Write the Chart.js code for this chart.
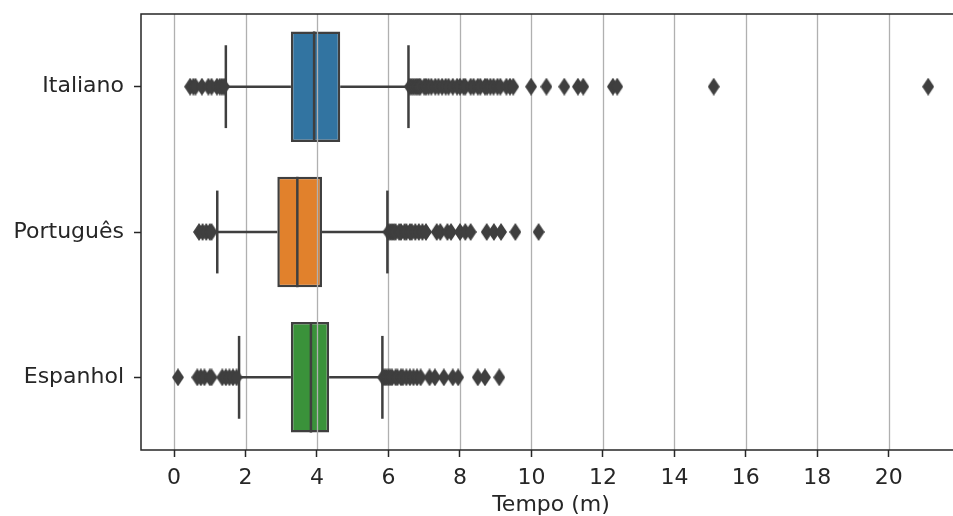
<!DOCTYPE html>
<html>
<head>
<meta charset="utf-8">
<script src="https://cdn.jsdelivr.net/npm/chart.js@4"></script>
<style>
  html, body { margin: 0; padding: 0; background: #fff; overflow: hidden; }
  #box-chart { display: block; }
</style>
</head>
<body>
<canvas id="box-chart" width="953" height="516"></canvas>
<script>
// languages (top to bottom) and box colours
const categories = ["Italiano", "Português", "Espanhol"];
const boxColors = ["#3274a1", "#e1812c", "#3a923a"];

// box statistics, minutes
const whiskerLow  = [1.45, 1.21, 1.82];
const q1          = [3.27, 2.89, 3.27];
const median      = [3.92, 3.45, 3.83];
const q3          = [4.65, 4.14, 4.34];
const whiskerHigh = [6.56, 5.97, 5.83];

// fliers
const fliersItaliano = [
  0.45, 0.54, 0.6, 0.78, 0.96, 1.05, 1.2, 1.28, 1.34, 1.4,
  6.6, 6.65, 6.7, 6.75, 6.8, 6.85, 6.89, 7.0, 7.05, 7.12, 7.2, 7.31, 7.4, 7.5,
  7.6, 7.68, 7.8, 7.92, 8.0, 8.1, 8.15, 8.3, 8.38, 8.5, 8.57, 8.7, 8.76, 8.85,
  8.94, 9.05, 9.13, 9.3, 9.4, 9.49,
  9.99, 10.42, 10.92, 11.3, 11.45, 12.28, 12.4, 15.1, 21.1
];
const fliersPortugues = [
  0.7, 0.8, 0.9, 1.0, 1.05,
  6.0, 6.05, 6.1, 6.15, 6.2, 6.3, 6.35, 6.45, 6.5, 6.6, 6.65, 6.75, 6.85,
  6.95, 7.05, 7.35, 7.45, 7.65, 7.75, 8.0, 8.15, 8.3, 8.75, 8.95, 9.15,
  9.55, 10.2
];
const fliersEspanhol = [
  0.11, 0.65, 0.75, 0.85, 1.0, 1.05, 1.35, 1.45, 1.55, 1.65, 1.75,
  5.85, 5.9, 5.95, 6.0, 6.05, 6.1, 6.2, 6.25, 6.35, 6.4, 6.5, 6.6, 6.7,
  6.8, 6.9, 7.15, 7.3, 7.55, 7.8, 7.95, 8.5, 8.7, 9.1
];
const fliers = [fliersItaliano, fliersPortugues, fliersEspanhol];

const xTicks = [0, 2, 4, 6, 8, 10, 12, 14, 16, 18, 20];
const xTitle = "Tempo (m)";

const lineColor = "#3f3f3f";

// thin diamond marker like matplotlib "d"
function diamond(w, h) {
  const c = document.createElement("canvas");
  c.width = w; c.height = h;
  const g = c.getContext("2d");
  g.fillStyle = lineColor;
  g.beginPath();
  g.moveTo(w / 2, 0);
  g.lineTo(w, h / 2);
  g.lineTo(w / 2, h);
  g.lineTo(0, h / 2);
  g.closePath();
  g.fill();
  return c;
}
const marker = diamond(12, 18);

const BOX_HALF = 0.38;
const CAP_HALF = 0.285;
const AXES_RIGHT = 961; // the original axes run a little past the cut edge

// grid over the boxes, then whiskers, caps and medians (matplotlib order)
const boxExtras = {
  id: "boxExtras",
  afterDatasetDraw(chart, args) {
    if (args.index !== 0) return;
    const { ctx, chartArea, scales: { x, y } } = chart;
    ctx.save();
    ctx.strokeStyle = "#b0b0b0";
    ctx.lineWidth = 1.3;
    xTicks.forEach(v => {
      const px = Math.round(x.getPixelForValue(v)) + 0.5;
      ctx.beginPath();
      ctx.moveTo(px, chartArea.top);
      ctx.lineTo(px, chartArea.bottom);
      ctx.stroke();
    });
    ctx.strokeStyle = lineColor;
    ctx.lineWidth = 2.5;
    categories.forEach((c, i) => {
      const cy = y.getPixelForValue(i);
      const seg = (a, b, c2, d) => {
        ctx.beginPath(); ctx.moveTo(a, b); ctx.lineTo(c2, d); ctx.stroke();
      };
      seg(x.getPixelForValue(whiskerLow[i]), cy, x.getPixelForValue(q1[i]), cy);
      seg(x.getPixelForValue(q3[i]), cy, x.getPixelForValue(whiskerHigh[i]), cy);
      [whiskerLow[i], whiskerHigh[i]].forEach(v => {
        const px = x.getPixelForValue(v);
        seg(px, y.getPixelForValue(i - CAP_HALF), px, y.getPixelForValue(i + CAP_HALF));
      });
      const mx = x.getPixelForValue(median[i]);
      seg(mx, y.getPixelForValue(i - BOX_HALF), mx, y.getPixelForValue(i + BOX_HALF));
    });
    ctx.restore();
  },
  // spines (cut on the right) and the x label centred on the full axes
  afterDraw(chart) {
    const { ctx, chartArea: a, width } = chart;
    ctx.save();
    ctx.strokeStyle = "#262626";
    ctx.lineWidth = 1.5;
    ctx.beginPath();
    ctx.moveTo(width, a.top);
    ctx.lineTo(a.left, a.top);
    ctx.lineTo(a.left, a.bottom);
    ctx.lineTo(width, a.bottom);
    ctx.stroke();
    ctx.fillStyle = "#262626";
    ctx.font = "22px 'DejaVu Sans', sans-serif";
    ctx.textAlign = "center";
    ctx.textBaseline = "alphabetic";
    ctx.fillText(xTitle, (a.left + AXES_RIGHT) / 2, 511);
    ctx.restore();
  }
};

Chart.defaults.font.family = "'DejaVu Sans', sans-serif";
Chart.defaults.font.size = 22;
Chart.defaults.color = "#262626";

new Chart(document.getElementById("box-chart"), {
  type: "bar",
  data: {
    labels: categories,
    datasets: [
      {
        label: "box",
        data: categories.map((c, i) => [q1[i], q3[i]]),
        backgroundColor: boxColors,
        borderColor: lineColor,
        borderWidth: 2.5,
        borderSkipped: false,
        barPercentage: BOX_HALF * 2,
        categoryPercentage: 1,
        order: 1
      },
      ...categories.map((c, i) => ({
        type: "scatter",
        label: c + " fliers",
        data: fliers[i].map(v => ({ x: v, y: c })),
        pointStyle: marker,
        pointRadius: 6,
        showLine: false,
        clip: false,
        order: 0
      }))
    ]
  },
  options: {
    indexAxis: "y",
    responsive: false,
    animation: false,
    layout: { padding: { top: 14, right: 0, left: 0, bottom: 0 } },
    plugins: { legend: { display: false }, tooltip: { enabled: false } },
    scales: {
      x: {
        type: "linear",
        min: -0.924,
        max: 21.6,
        afterBuildTicks: s => { s.ticks = xTicks.map(v => ({ value: v })); },
        afterFit: s => { s.height = 66; s.paddingLeft = 0; s.paddingRight = 0; },
        border: { display: false },
        grid: { drawOnChartArea: false, tickLength: 7, tickColor: "#262626", tickWidth: 1.5 },
        ticks: { padding: 8, maxRotation: 0 }
      },
      y: {
        type: "category",
        offset: true,
        afterFit: s => { s.width = 141; s.paddingTop = 0; s.paddingBottom = 0; },
        border: { display: false },
        grid: { drawOnChartArea: false, offset: false, tickLength: 7, tickColor: "#262626", tickWidth: 1.5 },
        ticks: { padding: 10 }
      }
    }
  },
  plugins: [boxExtras]
});
</script>
</body>
</html>
